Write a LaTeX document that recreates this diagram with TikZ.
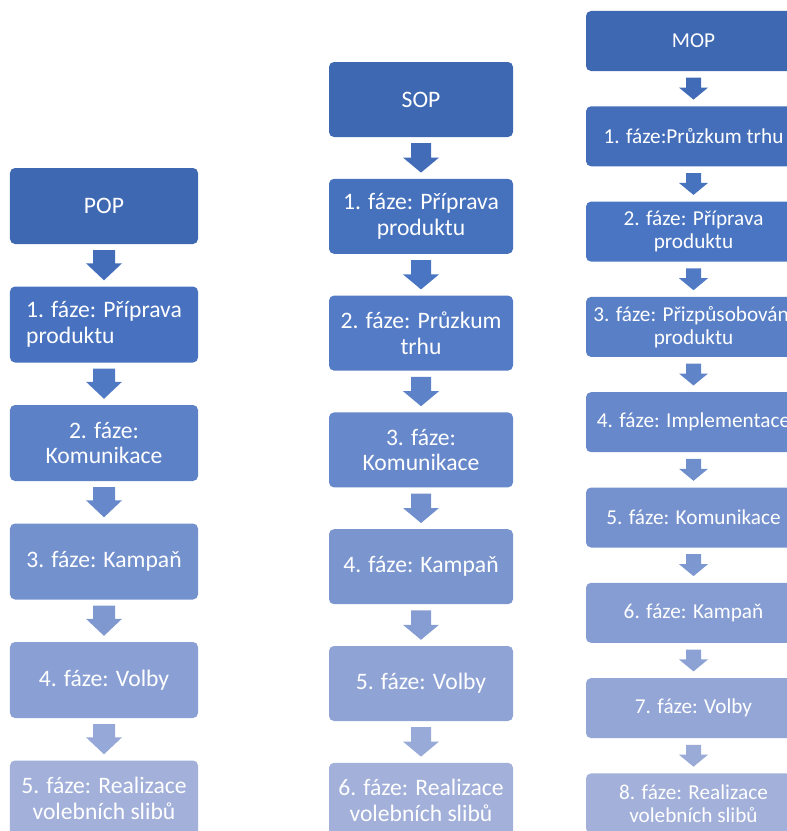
\documentclass[tikz,border=0pt]{standalone}
\usepackage{fontspec}
\setmainfont{Carlito}
\usetikzlibrary{calc}

\definecolor{darkB}{RGB}{63,104,179}
\definecolor{midB}{RGB}{74,117,194}
\definecolor{lightB}{RGB}{162,176,218}

\tikzset{
  phase/.style={rounded corners=5bp, text=white, align=center, inner sep=0pt},
  popbox/.style={phase, minimum width=188bp, minimum height=76bp, font=\fontsize{23.7}{25.5}\selectfont},
  sopbox/.style={phase, minimum width=184bp, minimum height=75bp, font=\fontsize{23.7}{25.5}\selectfont},
  mopbox/.style={phase, minimum width=215bp, minimum height=60bp, font=\fontsize{21.3}{23}\selectfont},
  blockarrow/.style n args={4}{to path={let \p1=(\tikztostart.south), \p2=(\tikztotarget.north) in
    (\x1-#1,\y1-#3) -- (\x1+#1,\y1-#3) -- (\x1+#1,\y2+#3+#4) -- (\x1+#2,\y2+#3+#4)
    -- (\x1,\y2+#3) -- (\x1-#2,\y2+#3+#4) -- (\x1-#1,\y2+#3+#4) -- cycle}},
  popflow/.style={blockarrow={11bp}{18bp}{6bp}{17bp}},
  sopflow/.style={blockarrow={10bp}{18bp}{6bp}{15bp}},
  mopflow/.style={blockarrow={7.5bp}{14.5bp}{6.5bp}{12bp}},
}

\begin{document}
\begin{tikzpicture}[x=1bp, y=-1bp]
\useasboundingbox (0,0) rectangle (787,831);
\clip (0,0) rectangle (787,831);

\node[popbox, fill=darkB] (pop) at (104,206) {POP};
\node[popbox, fill=midB!80!darkB, align=left] (pop1) at (104,324.5) {1. fáze: Příprava\\produktu};
\node[popbox, fill=lightB!20!midB] (pop2) at (104,443) {2. fáze:\\Komunikace};
\node[popbox, fill=lightB!47!midB] (pop3) at (104,561.5) {3. fáze: Kampaň};
\node[popbox, fill=lightB!73!midB] (pop4) at (104,680) {4. fáze: Volby};
\node[popbox, fill=lightB] (pop5) at (104,798.5) {5. fáze: Realizace\\volebních slibů};

\fill[midB!40!darkB, popflow] (pop) to (pop1);
\fill[lightB!7!midB, popflow] (pop1) to (pop2);
\fill[lightB!33!midB, popflow] (pop2) to (pop3);
\fill[lightB!60!midB, popflow] (pop3) to (pop4);
\fill[lightB!87!midB, popflow] (pop4) to (pop5);

\node[sopbox, fill=darkB] (sop) at (421,99.5) {SOP};
\node[sopbox, fill=midB!67!darkB] (sop1) at (421,216.3) {1. fáze: Příprava\\produktu};
\node[sopbox, fill=lightB!11!midB] (sop2) at (421,333.1) {2. fáze: Průzkum\\trhu};
\node[sopbox, fill=lightB!33!midB] (sop3) at (421,449.9) {3. fáze:\\Komunikace};
\node[sopbox, fill=lightB!56!midB] (sop4) at (421,566.7) {4. fáze: Kampaň};
\node[sopbox, fill=lightB!78!midB] (sop5) at (421,683.5) {5. fáze: Volby};
\node[sopbox, fill=lightB] (sop6) at (421,800.3) {6. fáze: Realizace\\volebních slibů};

\fill[midB!33!darkB, sopflow] (sop) to (sop1);
\fill[midB, sopflow] (sop1) to (sop2);
\fill[lightB!22!midB, sopflow] (sop2) to (sop3);
\fill[lightB!44!midB, sopflow] (sop3) to (sop4);
\fill[lightB!67!midB, sopflow] (sop4) to (sop5);
\fill[lightB!89!midB, sopflow] (sop5) to (sop6);

\node[mopbox, fill=darkB] (mop) at (693.5,41) {MOP};
\node[mopbox, fill=midB!50!darkB] (mop1) at (693.5,136.3) {1. fáze:Průzkum trhu};
\node[mopbox, fill=midB] (mop2) at (693.5,231.6) {2. fáze: Příprava\\produktu};
\node[mopbox, fill=lightB!17!midB] (mop3) at (693.5,326.9) {3. fáze: Přizpůsobování\\produktu};
\node[mopbox, fill=lightB!33!midB] (mop4) at (693.5,422.2) {4. fáze: Implementace};
\node[mopbox, fill=lightB!50!midB] (mop5) at (693.5,517.5) {5. fáze: Komunikace};
\node[mopbox, fill=lightB!67!midB] (mop6) at (693.5,612.8) {6. fáze: Kampaň};
\node[mopbox, fill=lightB!83!midB] (mop7) at (693.5,708.1) {7. fáze: Volby};
\node[mopbox, fill=lightB] (mop8) at (693.5,803.4) {8. fáze: Realizace\\volebních slibů};

\fill[midB!25!darkB, mopflow] (mop) to (mop1);
\fill[midB!75!darkB, mopflow] (mop1) to (mop2);
\fill[lightB!8!midB, mopflow] (mop2) to (mop3);
\fill[lightB!25!midB, mopflow] (mop3) to (mop4);
\fill[lightB!42!midB, mopflow] (mop4) to (mop5);
\fill[lightB!58!midB, mopflow] (mop5) to (mop6);
\fill[lightB!75!midB, mopflow] (mop6) to (mop7);
\fill[lightB!92!midB, mopflow] (mop7) to (mop8);
\end{tikzpicture}
\end{document}
